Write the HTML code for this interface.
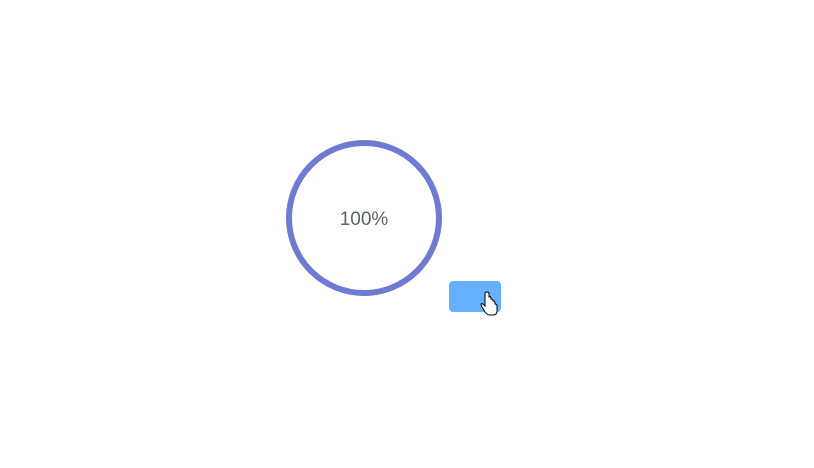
<!DOCTYPE html>
<html><head><meta charset="utf-8"><style>
html,body{margin:0;padding:0;background:#fff;width:814px;height:468px;overflow:hidden;font-family:"Liberation Sans",sans-serif}
svg{position:absolute;left:0;top:0}
.btn{position:absolute;left:449px;top:281px;width:52px;height:31px;background:#66b1ff;border-radius:4px;border:none;padding:0}
</style></head><body>
<svg width="814" height="468">
<circle cx="364" cy="218" r="75" fill="none" stroke="#6f7ad3" stroke-width="6"/>
<text x="364" y="225" text-anchor="middle" font-size="19" fill="#606266" font-family="Liberation Sans, sans-serif">100%</text>
</svg>
<button class="btn"></button>
<svg width="814" height="468" style="pointer-events:none">
<path d="M485 298 v8 l-2-2 q-2-1-2 1 l4 7 q2 3 5 3 h3 q4 0 4-4 v-5 q0-2-2-2 v-1 q0-2-2-2 v0 q0-2-2-2 v-1 q0-2-2-1 v-2 -1 q0-2-2-2 q-2 0-2 2z" fill="#fff" stroke="#000" stroke-width="1"/>
</svg>
</body></html>
